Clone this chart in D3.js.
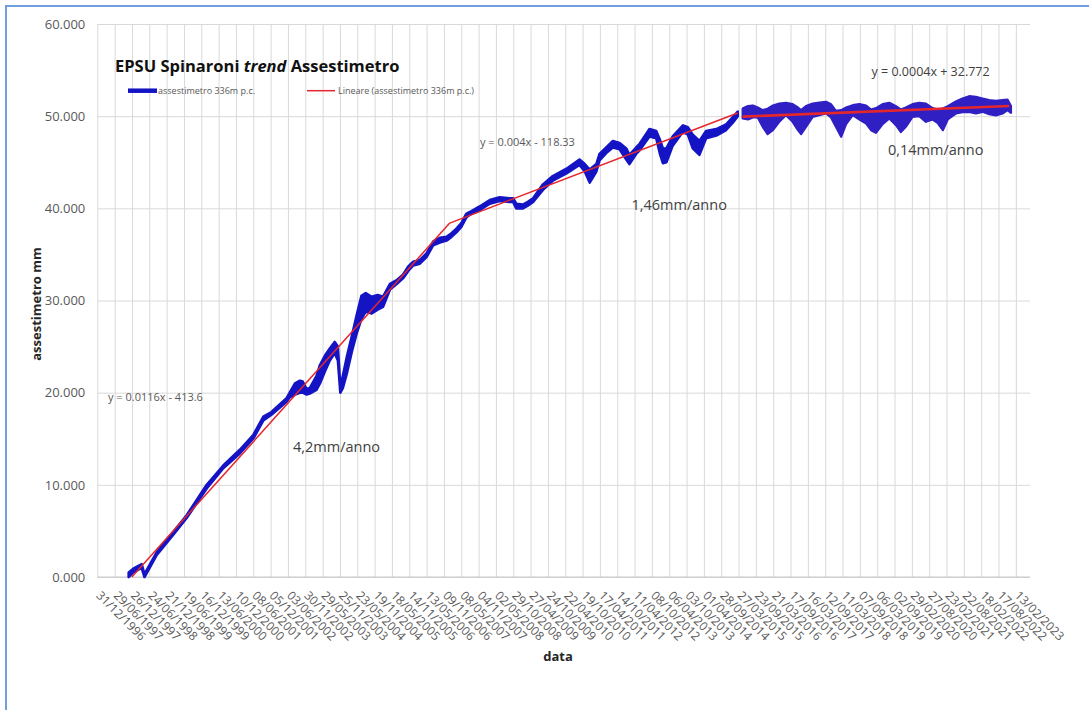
<!DOCTYPE html>
<html>
<head>
<meta charset="utf-8">
<script src="https://cdn.jsdelivr.net/npm/d3@7"></script>
<style>
  body { margin: 0; background: #fff; }
  svg { display: block; font-family: "Open Sans", sans-serif; }
</style>
</head>
<body>
<div id="chart"></div>
<script>
// 1: DATA
const tickLabels = [
  "31/12/1996", "29/06/1997", "26/12/1997", "24/06/1998", "21/12/1998", "19/06/1999",
  "16/12/1999", "13/06/2000", "10/12/2000", "08/06/2001", "05/12/2001", "03/06/2002",
  "30/11/2002", "29/05/2003", "25/11/2003", "23/05/2004", "19/11/2004", "18/05/2005",
  "14/11/2005", "13/05/2006", "09/11/2006", "08/05/2007", "04/11/2007", "02/05/2008",
  "29/10/2008", "27/04/2009", "24/10/2009", "22/04/2010", "19/10/2010", "17/04/2011",
  "14/10/2011", "11/04/2012", "08/10/2012", "06/04/2013", "03/10/2013", "01/04/2014",
  "28/09/2014", "27/03/2015", "23/09/2015", "21/03/2016", "17/09/2016", "16/03/2017",
  "12/09/2017", "11/03/2018", "07/09/2018", "06/03/2019", "02/09/2019", "29/02/2020",
  "27/08/2020", "23/02/2021", "22/08/2021", "18/02/2022", "17/08/2022", "13/02/2023"
];
const axisStart = "31/12/1996";
const axisEnd = "10/07/2023";
const yTicks = [0, 10, 20, 30, 40, 50, 60];

// assestimetro, first stretch (decimal year, min, max in mm)
const anniA = [
  1997.89, 1998.02, 1998.26, 1998.34, 1998.69, 1999.16, 1999.54, 2000.11, 2000.58, 2001.05,
  2001.43, 2001.72, 2001.95, 2002.38, 2002.47, 2002.62, 2002.76, 2002.84, 2002.95, 2003.04,
  2003.23, 2003.33, 2003.47, 2003.61, 2003.75, 2003.84, 2003.91, 2003.98, 2004.09, 2004.24,
  2004.38, 2004.51, 2004.63, 2004.80, 2004.97, 2005.12, 2005.32, 2005.51, 2005.69, 2005.84,
  2005.98, 2006.17, 2006.36, 2006.55, 2006.74, 2006.93, 2007.07, 2007.21, 2007.35, 2007.49,
  2007.59, 2007.87, 2008.16, 2008.44, 2008.72, 2008.82, 2008.91, 2009.10, 2009.24, 2009.39,
  2009.67, 2009.95, 2010.34, 2010.71, 2010.86, 2011.00, 2011.19, 2011.28, 2011.47, 2011.66,
  2011.85, 2012.04, 2012.13, 2012.32, 2012.42, 2012.70, 2012.89, 2012.99, 2013.08, 2013.18,
  2013.36, 2013.65, 2013.79, 2013.93, 2014.12, 2014.31, 2014.60, 2014.88, 2015.07, 2015.21
];
const minA = [
  0.0, 0.5, 1.0, 0.0, 2.4, 4.6, 6.4, 9.6, 11.8, 13.4,
  15.0, 17.0, 17.6, 19.0, 19.5, 19.8, 20.0, 20.0, 19.8, 19.9,
  20.3, 21.0, 22.3, 23.5, 24.3, 23.5, 20.0, 20.5, 22.0, 24.5,
  26.5, 28.0, 28.8, 28.6, 29.0, 29.3, 31.2, 31.8, 32.4, 33.2,
  33.8, 34.0, 34.7, 36.0, 36.3, 36.5, 36.9, 37.4, 38.0, 39.0,
  39.3, 39.8, 40.5, 40.8, 40.7, 40.7, 40.0, 40.0, 40.3, 40.7,
  42.0, 43.0, 43.8, 44.7, 44.0, 42.8, 44.0, 45.2, 46.0, 46.6,
  46.4, 45.3, 44.8, 45.9, 46.3, 47.8, 47.6, 46.0, 44.9, 45.0,
  46.8, 48.3, 48.0, 46.5, 45.8, 47.6, 47.9, 48.5, 49.3, 50.0
];
const maxA = [
  0.5, 0.9, 1.4, 0.3, 2.7, 4.9, 6.7, 10.0, 12.1, 13.8,
  15.4, 17.4, 17.9, 19.4, 20.0, 21.0, 21.3, 21.2, 20.4, 20.5,
  21.8, 23.0, 24.0, 24.8, 25.5, 25.0, 20.6, 21.8, 23.8, 26.2,
  28.5, 30.5, 30.8, 30.4, 30.6, 30.4, 31.8, 32.2, 32.8, 33.7,
  34.2, 34.4, 35.1, 36.4, 36.8, 36.9, 37.3, 37.8, 38.4, 39.4,
  39.6, 40.2, 40.9, 41.2, 41.1, 41.1, 40.5, 40.4, 40.7, 41.1,
  42.6, 43.5, 44.3, 45.3, 44.8, 44.2, 44.8, 45.9, 46.6, 47.3,
  47.1, 46.5, 45.8, 46.6, 47.0, 48.6, 48.4, 47.5, 46.5, 46.5,
  47.8, 49.0, 48.8, 48.0, 47.3, 48.4, 48.6, 49.1, 49.9, 50.5
];

// assestimetro, last stretch (decimal year, min, max in mm)
const anniB = [
  2015.35, 2015.50, 2015.64, 2015.78, 2015.92, 2016.06, 2016.21, 2016.39, 2016.58, 2016.77,
  2016.92, 2017.01, 2017.15, 2017.34, 2017.53, 2017.72, 2017.86, 2018.00, 2018.15, 2018.29,
  2018.48, 2018.67, 2018.86, 2019.00, 2019.14, 2019.33, 2019.52, 2019.71, 2019.85, 2019.99,
  2020.18, 2020.37, 2020.56, 2020.75, 2020.89, 2021.04, 2021.18, 2021.41, 2021.60, 2021.79,
  2021.98, 2022.17, 2022.36, 2022.55, 2022.74, 2022.88, 2022.98
];
const minB = [
  49.75, 49.64, 49.86, 49.86, 48.84, 48.05, 48.48, 49.39, 50.11, 49.39,
  48.48, 48.05, 48.84, 49.93, 50.11, 50.29, 49.86, 48.84, 47.76, 49.13,
  50.11, 49.64, 49.20, 48.48, 48.19, 49.13, 49.75, 49.02, 48.27, 48.84,
  49.93, 50.00, 49.39, 49.64, 49.28, 48.48, 49.64, 50.29, 50.43, 50.47,
  50.29, 50.47, 50.22, 50.07, 50.29, 50.65, 50.36
];
const maxB = [
  50.83, 51.09, 51.16, 50.94, 50.65, 50.80, 51.16, 51.37, 51.45, 51.30,
  50.94, 50.65, 51.09, 51.37, 51.48, 51.56, 51.30, 50.58, 50.65, 50.94,
  51.19, 51.30, 51.16, 50.72, 50.87, 51.30, 51.45, 51.09, 50.72, 50.94,
  51.30, 51.45, 51.37, 50.87, 50.72, 50.83, 51.09, 51.59, 51.92, 52.17,
  52.10, 51.92, 51.74, 51.66, 51.74, 51.81, 51.09
];

// linear trends (start / end)
const trendAnni = [[1997.98, 2007.02], [2007.02, 2015.21], [2015.35, 2022.93]];
const trendValori = [[0.0, 38.4], [38.4, 50.35], [49.95, 51.1]];
const equazioni = ["y = 0.0116x - 413.6", "y = 0.004x - 118.33", "y = 0.0004x + 32.772"];
const velocita = ["4,2mm/anno", "1,46mm/anno", "0,14mm/anno"];

// 2: LAYOUT
const W = 1089, H = 710;
const plot = { left: 97.3, right: 1030, top: 24, bottom: 577 };
const blueA = "#1414c4", blueB = "#3020c4", red = "#e5262b";
const grey = "#595959";

const parseDate = d3.timeParse("%d/%m/%Y");
function fromYear(v) {
  const yr = Math.floor(v);
  const a = new Date(yr, 0, 1), b = new Date(yr + 1, 0, 1);
  return new Date(+a + (v - yr) * (b - a));
}

const svg = d3.select("#chart").append("svg")
  .attr("width", W)
  .attr("height", H);

// outer frame
svg.append("rect")
  .attr("x", 6).attr("y", 6)
  .attr("width", 1200).attr("height", 800)
  .attr("fill", "none")
  .attr("stroke", "#6f9fdc")
  .attr("stroke-width", 2);

// 3: SCALES
const x = d3.scaleTime()
  .domain([parseDate(axisStart), parseDate(axisEnd)])
  .range([plot.left, plot.right]);
const y = d3.scaleLinear()
  .domain([0, 60])
  .range([plot.bottom, plot.top]);

// 4: AXES + GRID
const yAxis = svg.append("g")
  .attr("transform", `translate(${plot.left},0)`)
  .call(d3.axisLeft(y)
    .tickValues(yTicks)
    .tickSize(-(plot.right - plot.left))
    .tickPadding(12)
    .tickFormat(d => d3.format(".3f")(d)));
yAxis.select(".domain").remove();
yAxis.selectAll("line").attr("stroke", "#d9d9d9");
yAxis.selectAll("text")
  .attr("fill", grey)
  .style("font-size", "13px")
  .style("font-family", "'Open Sans', sans-serif");

const tickDates = tickLabels.map(parseDate);
const xAxis = svg.append("g")
  .attr("transform", `translate(0,${plot.bottom})`)
  .call(d3.axisBottom(x)
    .tickValues(tickDates)
    .tickSize(-(plot.bottom - plot.top))
    .tickFormat((d, i) => tickLabels[i]));
xAxis.select(".domain").remove();
xAxis.selectAll("line").attr("stroke", "#d9d9d9");
xAxis.selectAll("text")
  .attr("fill", grey)
  .attr("x", 12)
  .attr("y", 11)
  .attr("dy", "0.35em")
  .attr("transform", "rotate(45)")
  .style("text-anchor", "start")
  .style("font-size", "12px")
  .style("font-family", "'Open Sans', sans-serif");

// bottom axis line
svg.append("line")
  .attr("x1", plot.left).attr("x2", plot.right)
  .attr("y1", y(0)).attr("y2", y(0))
  .attr("stroke", "#c8c8c8");

// 5: SERIES
const band = d3.area()
  .x(d => x(fromYear(d[0])))
  .y0(d => y(d[1]))
  .y1(d => y(d[2]));

const serieA = anniA.map((a, i) => [a, minA[i], maxA[i]]);
const serieB = anniB.map((a, i) => [a, minB[i], maxB[i]]);

svg.append("path")
  .datum(serieA)
  .attr("d", band)
  .attr("fill", blueA)
  .attr("stroke", blueA)
  .attr("stroke-width", 2.6)
  .attr("stroke-linejoin", "round");

svg.append("path")
  .datum(serieB)
  .attr("d", band)
  .attr("fill", blueB)
  .attr("stroke", blueB)
  .attr("stroke-width", 2.2)
  .attr("stroke-linejoin", "round");

// trend lines
const line = d3.line()
  .x(d => x(fromYear(d[0])))
  .y(d => y(d[1]));

trendAnni.forEach((t, i) => {
  svg.append("path")
    .datum(t.map((a, j) => [a, trendValori[i][j]]))
    .attr("d", line)
    .attr("fill", "none")
    .attr("stroke", red)
    .attr("stroke-width", i === 2 ? 2.6 : 1.5);
});

// 6: TEXTS
const eqPos = [[108, 400.5, 11], [480, 145.5, 11], [871.5, 76, 12.5]];
equazioni.forEach((t, i) => {
  svg.append("text")
    .attr("x", eqPos[i][0])
    .attr("y", eqPos[i][1])
    .attr("fill", i === 2 ? "#404040" : grey)
    .style("font-size", eqPos[i][2] + "px")
    .text(t);
});

const velPos = [[293, 452], [631.5, 210], [888, 155]];
velocita.forEach((t, i) => {
  svg.append("text")
    .attr("x", velPos[i][0])
    .attr("y", velPos[i][1])
    .attr("fill", "#404040")
    .style("font-size", "14.5px")
    .text(t);
});

// title
const title = svg.append("text")
  .attr("x", 115)
  .attr("y", 72)
  .attr("fill", "#111")
  .style("font-size", "16.5px")
  .style("font-weight", "bold");
title.append("tspan").text("EPSU Spinaroni ");
title.append("tspan").style("font-style", "italic").text("trend");
title.append("tspan").text(" Assestimetro");

// legend
svg.append("line")
  .attr("x1", 128).attr("x2", 157)
  .attr("y1", 90.7).attr("y2", 90.7)
  .attr("stroke", blueA)
  .attr("stroke-width", 4.5);
svg.append("text")
  .attr("x", 158).attr("y", 94)
  .attr("fill", grey)
  .style("font-size", "9px")
  .text("assestimetro 336m p.c.");
svg.append("line")
  .attr("x1", 307).attr("x2", 335)
  .attr("y1", 90.7).attr("y2", 90.7)
  .attr("stroke", red)
  .attr("stroke-width", 1.5);
svg.append("text")
  .attr("x", 338).attr("y", 94)
  .attr("fill", grey)
  .style("font-size", "9px")
  .text("Lineare (assestimetro 336m p.c.)");

// axis titles
svg.append("text")
  .attr("x", 558)
  .attr("y", 661)
  .attr("text-anchor", "middle")
  .attr("fill", "#262626")
  .style("font-size", "13px")
  .style("font-weight", "bold")
  .text("data");

svg.append("text")
  .attr("transform", "rotate(-90)")
  .attr("x", -304)
  .attr("y", 41)
  .attr("text-anchor", "middle")
  .attr("fill", "#262626")
  .style("font-size", "13px")
  .style("font-weight", "bold")
  .text("assestimetro  mm");
</script>
</body>
</html>
